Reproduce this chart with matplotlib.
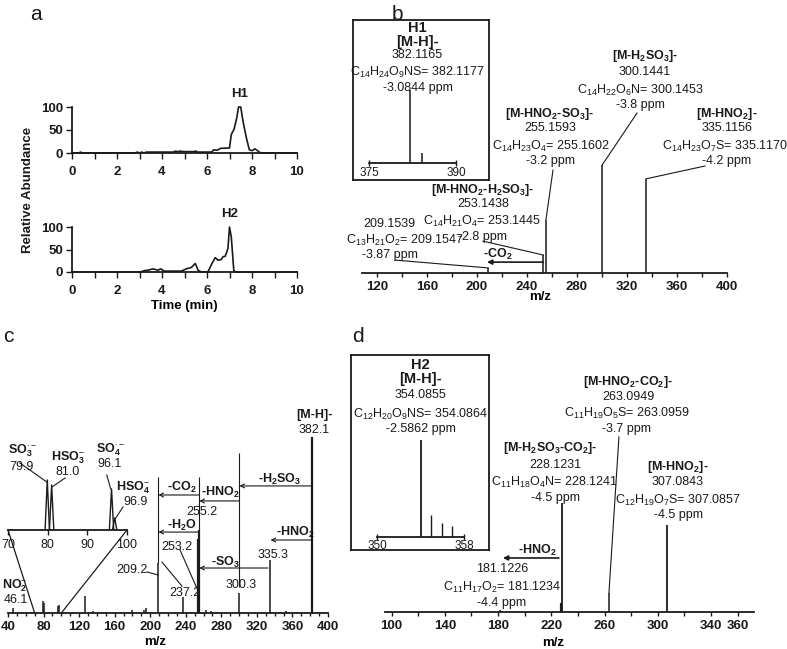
import numpy as np
import matplotlib.pyplot as plt
from matplotlib.patches import ConnectionPatch

plt.rcParams['font.family'] = ['Liberation Sans', 'DejaVu Sans']
plt.rcParams['mathtext.fontset'] = 'custom'
plt.rcParams['mathtext.rm'] = 'Liberation Sans'
plt.rcParams['mathtext.it'] = 'Liberation Sans:italic'
plt.rcParams['mathtext.bf'] = 'Liberation Sans:bold'

W, H = 787, 649
INK = '#1a1a1a'

# ---- a: extracted ion chromatograms ----
h1_time = [0, 0.3, 0.38, 0.45, 2.8, 2.9, 3.0, 3.1, 3.2, 3.3, 3.4, 4.5, 4.6, 4.7, 4.8, 5.0,
           5.4, 5.5, 5.6, 6.2, 6.3, 6.45, 6.6, 7.0, 7.08, 7.15, 7.2, 7.33, 7.4, 7.5, 7.6,
           7.75, 7.88, 8.0, 8.13, 8.22, 8.35, 8.5, 10]
h1_abund = [0, 0, 2, 0, 0, 2, 0, 2, 0, 2, 2, 2, 4, 3, 4, 3,
            3, 4, 2, 2, 7, 6, 10, 11, 40, 47, 51, 78, 100, 100, 69,
            33, 7, 5, 9, 6, 1, 0, 0]
h2_time = [0, 3.05, 3.2, 3.38, 3.6, 3.82, 3.94, 4.1, 4.86, 5.08, 5.3, 5.48, 5.6, 5.75,
           6.04, 6.22, 6.37, 6.49, 6.64, 6.71, 6.81, 6.93, 7.0, 7.08, 7.19, 7.26, 10]
h2_abund = [0, 0, 3, 4, 7, 4, 7, 2, 2, 7, 10, 19, 4, 0,
            0, 19, 32, 26, 28, 34, 35, 52, 100, 78, 4, 0, 0]

# ---- b: H1 product ions ----
b_mz = [209.15, 253.14, 255.16, 300.14, 335.12]
b_int = [2, 7.1, 21, 42.7, 37.2]
b_ins_mz = [382.12, 384.1]
b_ins_int = [100, 14]

# ---- c: H1 nominal-mass spectrum ----
c_mz = [46.1, 79.9, 81.0, 96.1, 96.9, 127.0, 136.0, 150.0, 160.0, 180.0, 193.0, 195.0,
        209.2, 237.2, 253.2, 255.2, 263.0, 268.0, 300.3, 335.3, 353.0, 382.1]
c_int = [1.8, 4.2, 3.5, 2.5, 3.0, 6.0, 0.8, 0.5, 0.5, 1.0, 1.2, 1.8,
         17.7, 5.7, 26, 29.3, 1.2, 0.8, 7.1, 18.7, 0.8, 62.2]
c_zoom_mz = [79.9, 81.0, 96.1, 96.9]
c_zoom_int = [55.6, 50, 45.6, 13.3]
c_guide_mz = [209.2, 255.2, 300.3]
c_guide_lo = [17.7, 29.3, 9.2]
c_guide_hi = [48, 48, 56.5]

# ---- d: H2 product ions ----
d_mz = [181.12, 227.1, 228.12, 263.09, 307.08]
d_int = [0.7, 3.2, 39.4, 6.9, 31.4]
d_ins_mz = [354.09, 355.0, 356.0, 356.9]
d_ins_int = [100, 22.7, 14.4, 11.3]


def px_rect(x0, y0, x1, y1):
    return [x0 / W, 1 - y1 / H, (x1 - x0) / W, (y1 - y0) / H]


def spec_axis(ax, xlim, major, minor, bold=True, size=9.5, length=3):
    ax.set_xlim(*xlim)
    ax.set_ylim(0, 100)
    for s in ['top', 'right', 'left']:
        ax.spines[s].set_visible(False)
    ax.spines['bottom'].set_linewidth(1.3)
    ax.spines['bottom'].set_color(INK)
    ax.set_yticks([])
    ax.set_xticks(major)
    ax.set_xticks(minor, minor=True)
    ax.tick_params(axis='x', which='both', direction='out', length=length, width=1,
                   pad=3, labelsize=size, colors=INK)
    ax.patch.set_visible(False)
    if bold:
        for lab in ax.get_xticklabels():
            lab.set_fontweight('bold')


def txt(ax, x, y, s, bold=False, size=9, ha='center', **kw):
    ax.text(x, y, s, ha=ha, va='center', fontsize=size, color=INK,
            fontweight='bold' if bold else 'normal', clip_on=False, **kw)


def leader(ax, p0, p1, lw=0.8):
    ax.plot([p0[0], p1[0]], [p0[1], p1[1]], color=INK, lw=lw, clip_on=False)


def loss_arrow(ax, x0, x1, y, style='->', lw=0.8, ms=8):
    ax.annotate('', xy=(x1, y), xytext=(x0, y),
                arrowprops=dict(arrowstyle=style, lw=lw, color=INK, shrinkA=0, shrinkB=0,
                                mutation_scale=ms))


def box_axes(fig, rect):
    ax = fig.add_axes(rect)
    ax.set_xticks([])
    ax.set_yticks([])
    ax.set_xlim(0, 1)
    ax.set_ylim(0, 1)
    ax.patch.set_visible(False)
    for s in ax.spines.values():
        s.set_linewidth(1.3)
        s.set_color(INK)
    return ax


fig = plt.figure(figsize=(W / 100, H / 100), dpi=100)

# ================= a =================
for rect, t, a, name, ny in [(px_rect(72, 107, 297, 153), h1_time, h1_abund, 'H1', 128),
                             (px_rect(72, 227, 297, 272), h2_time, h2_abund, 'H2', 128)]:
    ax = fig.add_axes(rect)
    ax.plot(t, a, color=INK, lw=1.2, clip_on=False)
    ax.set_xlim(0, 10)
    ax.set_ylim(0, 100)
    ax.spines['top'].set_visible(False)
    ax.spines['right'].set_visible(False)
    for s in ['left', 'bottom']:
        ax.spines[s].set_linewidth(1.3)
        ax.spines[s].set_color(INK)
    ax.set_xticks(range(0, 11, 2))
    ax.set_xticks(range(0, 11), minor=True)
    ax.set_yticks([0, 50, 100])
    ax.tick_params(which='both', direction='out', length=4.5, width=1, colors=INK, labelsize=9.5)
    ax.tick_params(axis='x', pad=5)
    ax.tick_params(axis='y', pad=2)
    for lab in ax.get_xticklabels() + ax.get_yticklabels():
        lab.set_fontweight('bold')
    ax.patch.set_visible(False)
    txt(ax, 7.45 if name == 'H1' else 7.0, ny, name, bold=True, size=9.5)
    if name == 'H2':
        ax.set_xlabel('Time (min)', fontsize=9.5, fontweight='bold', labelpad=2)

fig.text(28 / W, 1 - 190 / H, 'Relative Abundance', rotation=90, ha='center', va='center',
         fontsize=9.5, fontweight='bold', color=INK)

# ================= b =================
axb = fig.add_axes(px_rect(362, 20, 727, 273))
axb.vlines(b_mz, 0, b_int, color=INK, lw=1.1)
spec_axis(axb, (108, 400), range(120, 401, 40), range(140, 401, 40))
axb.set_xlabel('m/z', fontsize=9.5, fontweight='bold')
axb.xaxis.set_label_coords(0.488, -0.095)
axb.xaxis.label.set_verticalalignment('center')

b_notes = [
    (334.4, 85.8, r'[M-H$_{\mathbf{2}}$SO$_{\mathbf{3}}$]-', True),
    (334.4, 79.4, '300.1441', False),
    (330.4, 72.3, r'C$_{14}$H$_{22}$O$_{6}$N= 300.1453', False),
    (330.4, 66.4, '-3.8 ppm', False),
    (258.4, 63.0, r'[M-HNO$_{\mathbf{2}}$-SO$_{\mathbf{3}}$]-', True),
    (258.4, 57.3, '255.1593', False),
    (259.2, 50.2, r'C$_{14}$H$_{23}$O$_{4}$= 255.1602', False),
    (258.4, 44.3, '-3.2 ppm', False),
    (400.0, 63.0, r'[M-HNO$_{\mathbf{2}}$]-', True),
    (400.0, 57.3, '335.1156', False),
    (398.4, 50.2, r'C$_{14}$H$_{23}$O$_{7}$S= 335.1170', False),
    (400.0, 44.3, '-4.2 ppm', False),
    (204.8, 32.8, r'[M-HNO$_{\mathbf{2}}$-H$_{\mathbf{2}}$SO$_{\mathbf{3}}$]-', True),
    (204.8, 27.3, '253.1438', False),
    (204.0, 20.2, r'C$_{14}$H$_{21}$O$_{4}$= 253.1445', False),
    (204.8, 14.2, '-2.8 ppm', False),
    (129.6, 19.4, '209.1539', False),
    (142.4, 13.0, r'C$_{13}$H$_{21}$O$_{2}$= 209.1547', False),
    (130.4, 7.1, '-3.87 ppm', False),
    (216.8, 7.2, r'-CO$_{\mathbf{2}}$', True),
]
for x, y, s, bo in b_notes:
    txt(axb, x, y, s, bold=bo)
leader(axb, (300.14, 42.7), (328, 63.2))
leader(axb, (260.8, 40.7), (255.16, 21))
leader(axb, (335.12, 37.2), (382.4, 42.3))
leader(axb, (204.8, 12.6), (253.14, 7.1))
leader(axb, (134.4, 5.1), (209.15, 2))
loss_arrow(axb, 253.14, 208, 4.3, style='-|>', lw=1.2, ms=7)

boxb = box_axes(fig, px_rect(353, 20, 489, 180))
for y, s, bo, sz in [(0.95, 'H1', True, 10.5), (0.86, '[M-H]-', True, 10.5),
                     (0.78, '382.1165', False, 9),
                     (0.67, r'C$_{14}$H$_{24}$O$_{9}$NS= 382.1177', False, 9),
                     (0.575, '-3.0844 ppm', False, 9)]:
    txt(boxb, 0.475, y, s, bold=bo, size=sz)

insb = fig.add_axes(px_rect(369, 90, 456, 163))
insb.vlines(b_ins_mz, 0, b_ins_int, color=INK, lw=1.1)
spec_axis(insb, (375, 390), [375, 390], [], bold=False, size=8.5, length=4)
insb.tick_params(axis='x', direction='inout', pad=1)

# ================= c =================
axc = fig.add_axes(px_rect(8, 330, 328, 613))
thick = [1.6 if h > 20 else 1.1 for h in c_int]
axc.vlines(c_mz, 0, c_int, color=INK, lw=thick)
axc.vlines(c_guide_mz, c_guide_lo, c_guide_hi, color=INK, lw=0.8)
spec_axis(axc, (40, 400), range(40, 401, 40), range(40, 401, 10))
axc.tick_params(axis='x', which='minor', length=2.5)
axc.set_xlabel('m/z', fontsize=9.5, fontweight='bold')
axc.xaxis.set_label_coords(0.459, -0.103)
axc.xaxis.label.set_verticalalignment('center')

c_arrows = [(382.1, 300.3, 44.9), (300.3, 255.2, 39.6), (255.2, 209.2, 41.7),
            (255.2, 209.2, 28.6), (382.1, 335.3, 25.8), (332.5, 255.2, 15.9)]
for x0, x1, y in c_arrows:
    loss_arrow(axc, x0, x1, y, style='->', lw=0.8, ms=7)

c_notes = [
    (384.2, 69.8, '[M-H]-', True), (384.2, 64.7, '382.1', False),
    (346.0, 47.2, r'-H$_{\mathbf{2}}$SO$_{\mathbf{3}}$', True),
    (278.5, 42.6, r'-HNO$_{\mathbf{2}}$', True),
    (235.7, 44.2, r'-CO$_{\mathbf{2}}$', True),
    (258.2, 35.7, '255.2', False),
    (235.7, 31.1, r'-H$_{\mathbf{2}}$O', True),
    (362.8, 28.6, r'-HNO$_{\mathbf{2}}$', True),
    (338.1, 20.5, '335.3', False),
    (284.1, 18.0, r'-SO$_{\mathbf{3}}$', True),
    (302.1, 9.9, '300.3', False),
    (230.1, 23.3, '253.2', False),
    (179.5, 15.2, '209.2', False),
    (239.1, 7.1, '237.2', False),
    (49.0, 4.6, '46.1', False),
]
for x, y, s, bo in c_notes:
    txt(axc, x, y, s, bold=bo)
txt(axc, 33.5, 9.8, r'NO$_{\mathbf{2}}^{-}$', bold=True, ha='left')
leader(axc, (233.5, 22.3), (254.8, 7.1))
leader(axc, (196.4, 14.5), (209.2, 13.4))
leader(axc, (213.2, 18.0), (235.7, 9.5))

insc = fig.add_axes(px_rect(8, 440, 127, 530))
for m, h in zip(c_zoom_mz, c_zoom_int):
    insc.plot([m - 0.55, m, m + 0.55], [0, h, 0], color=INK, lw=1.0)
spec_axis(insc, (70, 100), [70, 80, 90, 100], [], bold=False, size=9, length=3.5)
c_zoom_notes = [
    (73.5, 88.0, r'SO$_{\mathbf{3}}^{\cdot-}$', True), (73.5, 70.0, '79.9', False),
    (85.1, 80.0, r'HSO$_{\mathbf{3}}^{-}$', True), (85.1, 64.4, '81.0', False),
    (95.7, 89.0, r'SO$_{\mathbf{4}}^{\cdot-}$', True), (95.7, 73.5, '96.1', False),
    (101.5, 47.5, r'HSO$_{\mathbf{4}}^{-}$', True), (102.2, 31.1, '96.9', False),
]
for x, y, s, bo in c_zoom_notes:
    txt(insc, x, y, s, bold=bo)
leader(insc, (73.0, 74.4), (79.8, 53.3))
leader(insc, (84.4, 57.8), (81.1, 47.8))
leader(insc, (94.9, 61.1), (95.9, 45.6))
leader(insc, (99.0, 25.6), (97.0, 12.2))
for m in (70, 100):
    fig.add_artist(ConnectionPatch(xyA=(m, 0), coordsA='data', axesA=insc,
                                   xyB=(m, 0), coordsB='data', axesB=axc,
                                   color=INK, lw=0.9))

# ================= d =================
axd = fig.add_axes(px_rect(385, 335, 753.6, 612))
axd.vlines(d_mz, 0, d_int, color=INK, lw=[1.1, 1.6, 1.3, 1.1, 1.3])
spec_axis(axd, (95, 372), [100, 140, 180, 220, 260, 300, 340, 360],
          [120, 160, 200, 240, 280, 320])
axd.set_xlabel('m/z', fontsize=9.5, fontweight='bold')
axd.xaxis.set_label_coords(0.457, -0.112)
axd.xaxis.label.set_verticalalignment('center')

d_notes = [
    (277.6, 82.9, r'[M-HNO$_{\mathbf{2}}$-CO$_{\mathbf{2}}$]-', True),
    (277.6, 77.6, '263.0949', False),
    (276.8, 71.5, r'C$_{11}$H$_{19}$O$_{5}$S= 263.0959', False),
    (276.8, 66.1, '-3.7 ppm', False),
    (219.0, 59.2, r'[M-H$_{\mathbf{2}}$SO$_{\mathbf{3}}$-CO$_{\mathbf{2}}$]-', True),
    (222.7, 53.1, '228.1231', False),
    (222.7, 46.6, r'C$_{11}$H$_{18}$O$_{4}$N= 228.1241', False),
    (223.5, 41.2, '-4.5 ppm', False),
    (315.2, 52.5, r'[M-HNO$_{\mathbf{2}}$]-', True),
    (315.2, 46.9, '307.0843', False),
    (315.2, 40.4, r'C$_{12}$H$_{19}$O$_{7}$S= 307.0857', False),
    (315.2, 35.0, '-4.5 ppm', False),
    (209.2, 22.3, r'-HNO$_{\mathbf{2}}$', True),
    (182.9, 15.5, '181.1226', False),
    (182.9, 8.7, r'C$_{11}$H$_{17}$O$_{2}$= 181.1234', False),
    (182.9, 3.2, '-4.4 ppm', False),
]
for x, y, s, bo in d_notes:
    txt(axd, x, y, s, bold=bo)
leader(axd, (270.8, 63.2), (263.3, 6.9))
loss_arrow(axd, 225.7, 183.6, 19.5, style='-|>', lw=1.2, ms=7)

boxd = box_axes(fig, px_rect(351, 355, 489, 550))
for y, s, bo, sz in [(0.95, 'H2', True, 10.5), (0.877, '[M-H]-', True, 10.5),
                     (0.795, '354.0855', False, 9),
                     (0.697, r'C$_{12}$H$_{20}$O$_{9}$NS= 354.0864', False, 9),
                     (0.62, '-2.5862 ppm', False, 9)]:
    txt(boxd, 0.505, y, s, bold=bo, size=sz)

insd = fig.add_axes(px_rect(377, 440, 464, 537))
insd.vlines(d_ins_mz, 0, d_ins_int, color=INK, lw=[1.3, 1.0, 1.0, 1.0])
spec_axis(insd, (350, 358), [350, 358], [], bold=False, size=8.5, length=5)
insd.tick_params(axis='x', direction='inout', pad=0)

# panel letters
for x, y, s in [(36, 14, 'a'), (397, 14, 'b'), (8, 336, 'c'), (358, 336, 'd')]:
    fig.text(x / W, 1 - y / H, s, ha='center', va='center', fontsize=15, color=INK)

fig.savefig('out.png', dpi=100)
